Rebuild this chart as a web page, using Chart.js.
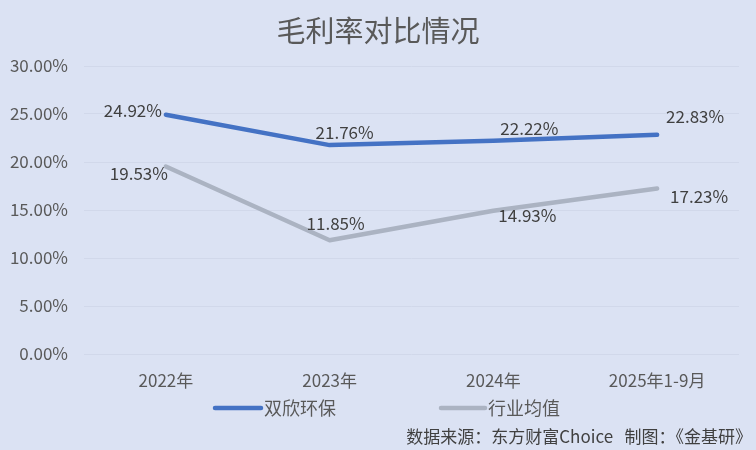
<!DOCTYPE html>
<html>
<head>
<meta charset="utf-8">
<script src="https://cdn.jsdelivr.net/npm/chart.js@4"></script>
<style>
  html, body { margin: 0; padding: 0; background: #dbe2f3; }
  canvas { display: block; }
</style>
</head>
<body>
<canvas id="c" width="756" height="450"></canvas>
<script>
const categories = ['2022年', '2023年', '2024年', '2025年1-9月'];
const seriesNames = ['双欣环保', '行业均值'];
const shuangxin = [24.92, 21.76, 22.22, 22.83];
const industryAvg = [19.53, 11.85, 14.93, 17.23];
const yTicks = [0, 5, 10, 15, 20, 25, 30];
const titleText = '毛利率对比情况';
const sourceText = '数据来源：东方财富Choice   制图：《金基研》';

// styling: label offsets relative to each point (px)
const labelOffsets = [
  [[-33, -4], [15, -13], [36, -12], [38, -18]],
  [[-27, 7], [6, -17], [34, 5], [42, 8]]
];
const FONT = '"Noto Sans CJK SC", "Noto Sans", sans-serif';
Chart.defaults.font.family = FONT;

const decor = {
  id: 'decor',
  beforeDraw(chart) {
    const ctx = chart.ctx;
    ctx.save();
    ctx.fillStyle = '#dbe2f3';
    ctx.fillRect(0, 0, chart.width, chart.height);
    ctx.restore();
  },
  afterDatasetsDraw(chart) {
    const ctx = chart.ctx;
    ctx.save();
    // data labels
    ctx.font = '17px ' + FONT;
    ctx.fillStyle = '#404040';
    ctx.textAlign = 'center';
    ctx.textBaseline = 'middle';
    chart.data.datasets.forEach((ds, di) => {
      const meta = chart.getDatasetMeta(di);
      meta.data.forEach((pt, i) => {
        const off = labelOffsets[di][i];
        ctx.fillText(ds.data[i].toFixed(2) + '%', pt.x + off[0], pt.y + off[1]);
      });
    });
    // title
    ctx.font = '29px ' + FONT;
    ctx.fillStyle = '#595959';
    ctx.fillText(titleText, 378, 31);
    // legend
    const legendPos = [[215, 261], [441, 485]];
    ctx.font = '18px ' + FONT;
    ctx.textAlign = 'left';
    chart.data.datasets.forEach((ds, di) => {
      const [x0, x1] = legendPos[di];
      ctx.strokeStyle = ds.borderColor;
      ctx.lineWidth = 4.5;
      ctx.lineCap = 'round';
      ctx.beginPath();
      ctx.moveTo(x0, 408);
      ctx.lineTo(x1, 408);
      ctx.stroke();
      ctx.fillStyle = '#595959';
      ctx.fillText(ds.label, x1 + 3, 408);
    });
    // source
    ctx.font = '17px ' + FONT;
    ctx.fillStyle = '#404040';
    ctx.textAlign = 'right';
    ctx.fillText(sourceText, 752, 437);
    ctx.restore();
  }
};

new Chart(document.getElementById('c'), {
  type: 'line',
  data: {
    labels: categories,
    datasets: [
      { label: seriesNames[0], data: shuangxin, borderColor: '#4472c4', backgroundColor: '#4472c4',
        borderWidth: 4.5, pointRadius: 0, tension: 0, borderCapStyle: 'round', borderJoinStyle: 'round' },
      { label: seriesNames[1], data: industryAvg, borderColor: '#abb3c2', backgroundColor: '#abb3c2',
        borderWidth: 4.5, pointRadius: 0, tension: 0, borderCapStyle: 'round', borderJoinStyle: 'round' }
    ]
  },
  options: {
    responsive: false,
    animation: false,
    layout: { padding: { top: 66, right: 17, left: 0, bottom: 56 } },
    plugins: { legend: { display: false }, title: { display: false }, tooltip: { enabled: false } },
    scales: {
      x: {
        offset: true,
        grid: { display: false, drawTicks: false },
        border: { display: false },
        ticks: { color: '#595959', font: { size: 17 }, padding: 16, maxRotation: 0 },
        afterFit(s) { s.height = 40; }
      },
      y: {
        min: yTicks[0],
        max: yTicks[yTicks.length - 1],
        afterBuildTicks(s) { s.ticks = yTicks.map(v => ({ value: v })); },
        grid: { color: '#d1d8ea', lineWidth: 1, drawTicks: false },
        border: { display: false },
        ticks: { color: '#595959', font: { size: 17 }, padding: 16, callback: v => v.toFixed(2) + '%' },
        afterFit(s) { s.width = 84; }
      }
    }
  },
  plugins: [decor]
});
</script>
</body>
</html>
